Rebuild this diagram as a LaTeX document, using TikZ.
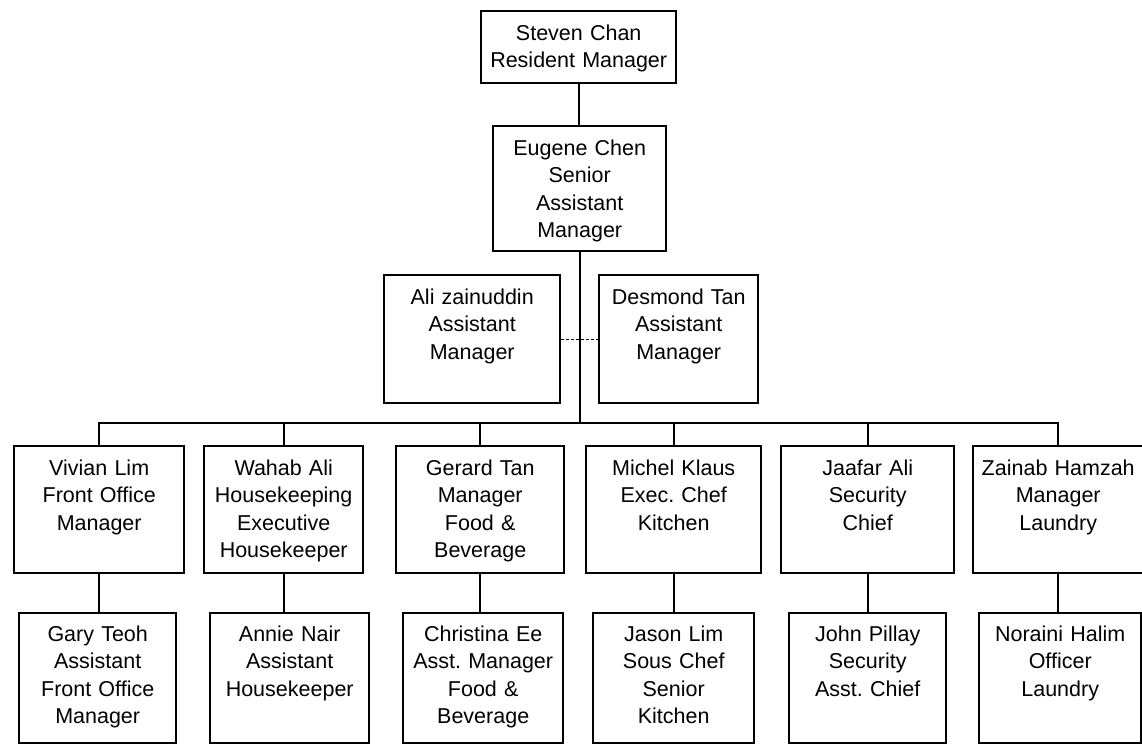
\documentclass[tikz,border=0pt]{standalone}
\usepackage{fontspec}
\setmainfont{Liberation Sans}
\usetikzlibrary{positioning}
\frenchspacing

\begin{document}
\begin{tikzpicture}[
  x=1pt, y=-1pt,
  staff/.style={rectangle, draw, line width=2.4pt, inner sep=0pt, anchor=north west, align=center, text height=29pt, font=\fontsize{21.5}{27.5}\selectfont},
  headbox/.style={staff, text depth=43pt},
  seniorbox/.style={staff, text depth=96pt},
  asstbox/.style={staff, text depth=99pt},
  deptbox/.style={staff, text depth=98pt},
  subbox/.style={staff, text height=28pt, text depth=102pt},
  link/.style={line width=1.8pt},
]
\useasboundingbox (0,0) rectangle (1142,744);

%%% Nodes
\node[headbox, text width=195pt] (steven) at (480,10) {Steven Chan\\Resident Manager};
\node[seniorbox, text width=173pt] (eugene) at (492,125) {Eugene Chen\\Senior\\Assistant\\Manager};
\node[asstbox, text width=176pt] (ali) at (383,274) {Ali zainuddin\\Assistant\\Manager};
\node[asstbox, text width=159pt] (desmond) at (598,274) {Desmond Tan\\Assistant\\Manager};

% departments
\node[deptbox, text width=170pt] (vivian) at (13,445) {Vivian Lim\\Front Office\\Manager};
\node[deptbox, text width=159pt] (wahab) at (203,445) {Wahab Ali\\Housekeeping\\Executive\\Housekeeper};
\node[deptbox, text width=168pt] (gerard) at (395,445) {Gerard Tan\\Manager\\Food \&\\Beverage};
\node[deptbox, text width=175pt] (michel) at (585,445) {Michel Klaus\\Exec. Chef\\Kitchen};
\node[deptbox, text width=173pt] (jaafar) at (780,445) {Jaafar Ali\\Security\\Chief};
\node[deptbox, text width=170pt] (zainab) at (972,445) {Zainab Hamzah\\Manager\\Laundry};

% assistants
\node[subbox, text width=157pt] (gary) at (18,612) {Gary Teoh\\Assistant\\Front Office\\Manager};
\node[subbox, text width=159pt] (annie) at (209,612) {Annie Nair\\Assistant\\Housekeeper};
\node[subbox, text width=160pt] (christina) at (402,612) {Christina Ee\\Asst. Manager\\Food \&\\Beverage};
\node[subbox, text width=161pt] (jason) at (592,612) {Jason Lim\\Sous Chef\\Senior\\Kitchen};
\node[subbox, text width=157pt] (john) at (788,612) {John Pillay\\Security\\Asst. Chief};
\node[subbox, text width=162pt] (noraini) at (978,612) {Noraini Halim\\Officer\\Laundry};

\coordinate (bus) at (577,423);

%%% Lines
\draw[link] (steven.south) -- (steven.south |- eugene.north);
\draw[link] (eugene.south) -- (eugene.south |- bus);
\draw[thin, densely dashed] (ali.east) -- (desmond.west);
\foreach \d in {vivian, wahab, gerard, michel, jaafar, zainab}
  \draw[link] (\d.north) |- (bus);
\foreach \d/\a in {vivian/gary, wahab/annie, gerard/christina, michel/jason, jaafar/john, zainab/noraini}
  \draw[link] (\d.south) -- (\d.south |- \a.north);

\end{tikzpicture}
\end{document}
